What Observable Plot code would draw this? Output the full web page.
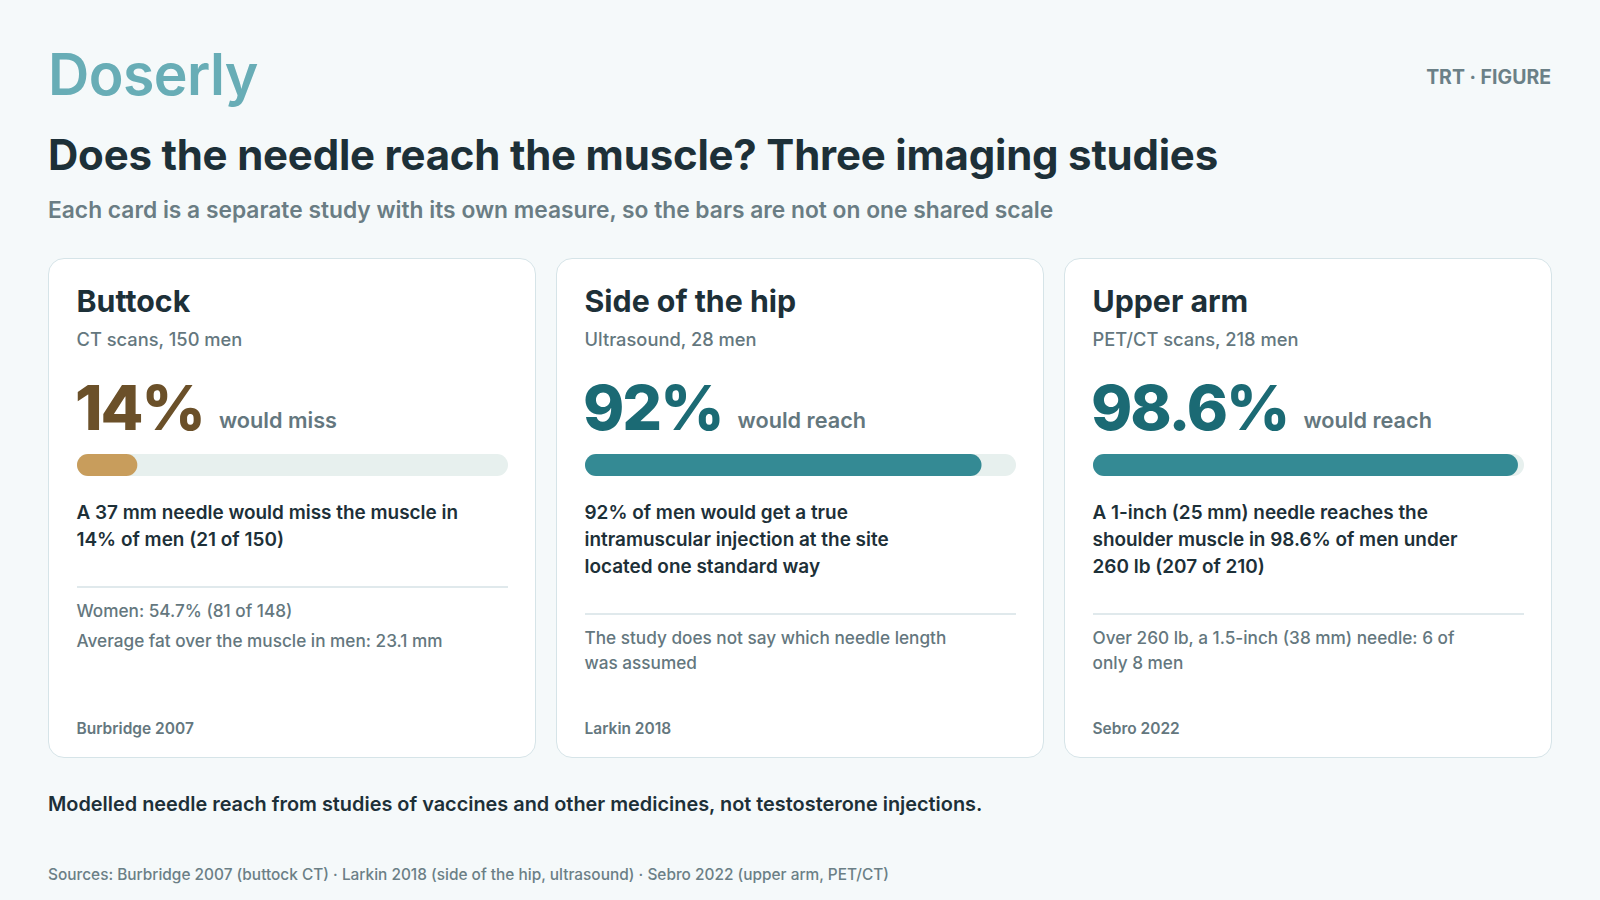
<!DOCTYPE html>
<html><head><meta charset="utf-8">
<script src="https://cdn.jsdelivr.net/npm/d3@7"></script>
<script src="https://cdn.jsdelivr.net/npm/@observablehq/plot@0.6"></script>
<style>
html,body{margin:0;padding:0;background:#f5f9fa;}
#page{position:relative;width:1600px;height:900px;overflow:hidden;font-family:Inter,"Noto Sans",sans-serif;color:#1d3038;}
.t{position:absolute;white-space:nowrap;line-height:1;}
.card{position:absolute;box-sizing:border-box;background:#fff;border:1.5px solid #d6e4e8;border-radius:16px;}
.rule{position:absolute;height:2px;background:#e0e9ec;}
.bar{position:absolute;}
</style></head><body><div id="page"></div>
<script>
// ---- data ----
const sites = ["Buttock", "Side of the hip", "Upper arm"];
const methods = ["CT scans, 150 men", "Ultrasound, 28 men", "PET/CT scans, 218 men"];
const values = [14, 92, 98.6];
const valueLabels = ["14%", "92%", "98.6%"];
const verbs = ["would miss", "would reach", "would reach"];
const headlines = [
  ["A 37 mm needle would miss the muscle in", "14% of men (21 of 150)"],
  ["92% of men would get a true", "intramuscular injection at the site", "located one standard way"],
  ["A 1-inch (25 mm) needle reaches the", "shoulder muscle in 98.6% of men under", "260 lb (207 of 210)"]
];
const notes = [
  [["Women: 54.7% (81 of 148)"], ["Average fat over the muscle in men: 23.1 mm"]],
  [["The study does not say which needle length", "was assumed"]],
  [["Over 260 lb, a 1.5-inch (38 mm) needle: 6 of", "only 8 men"]]
];
const studies = ["Burbridge 2007", "Larkin 2018", "Sebro 2022"];
const tones = ["miss", "reach", "reach"];

const brand = "Doserly";
const tag = "TRT · FIGURE";
const title = "Does the needle reach the muscle? Three imaging studies";
const subtitle = "Each card is a separate study with its own measure, so the bars are not on one shared scale";
const footnote = "Modelled needle reach from studies of vaccines and other medicines, not testosterone injections.";
const sourcesLine = "Sources: Burbridge 2007 (buttock CT) · Larkin 2018 (side of the hip, ultrasound) · Sebro 2022 (upper arm, PET/CT)";

// ---- styles ----
const DARK = "#1d3038", MUTED = "#64777e";
const toneColor = {miss: {num: "#6b5029", bar: "#c89d5c"}, reach: {num: "#1b6a74", bar: "#348a94"}};
const TRACK = "#e7f0ee";

const page = document.getElementById("page");
const A = 0.864; // baseline offset factor for line-height:1

function txt(parent, str, x, base, fs, weight, color, o = {}) {
  const d = document.createElement("div");
  d.className = "t";
  d.textContent = str;
  d.style.fontSize = fs + "px";
  d.style.fontWeight = weight;
  d.style.color = color;
  if (o.ls) d.style.letterSpacing = o.ls;
  if (o.right != null) d.style.right = o.right + "px"; else d.style.left = x + "px";
  d.style.top = (base - A * fs) + "px";
  parent.appendChild(d);
  if (o.fit) {
    const w = d.getBoundingClientRect().width;
    const f2 = fs * o.fit / w;
    d.style.fontSize = f2 + "px";
    d.style.top = (base - A * f2) + "px";
  }
  return d;
}

// header
txt(page, brand, 48, 95, 60, 600, "#68adb6", {fit: 210, ls: "-0.01em"});
txt(page, tag, 0, 85, 20.5, 700, "#6b8087", {right: 49, fit: 125});
txt(page, title, 48, 170, 39, 700, DARK, {fit: 1170, ls: "-0.005em"});
txt(page, subtitle, 48, 218.3, 22.5, 600, "#6a7d84", {fit: 1006});

// cards
const cardX = [48, 556, 1064];
const CW = 488, PAD = 28.5, IW = 431;

function bar(value, color) {
  return Plot.plot({
    width: IW, height: 22, margin: 0,
    x: {domain: [0, 100], axis: null},
    style: {background: "transparent", overflow: "visible"},
    marks: [
      Plot.barX([100], {x1: 0, x2: d => d, fill: TRACK, rx: 11}),
      Plot.barX([value], {x1: 0, x2: d => d, fill: color, rx: 11})
    ]
  });
}

sites.forEach((site, i) => {
  const cx = cardX[i];
  const card = document.createElement("div");
  card.className = "card";
  Object.assign(card.style, {left: cx + "px", top: "258px", width: CW + "px", height: "500px"});
  page.appendChild(card);
  const L = cx + PAD;
  const col = toneColor[tones[i]];

  txt(page, site, L, 312, 30.3, 700, DARK);
  txt(page, methods[i], L, 346.2, 18.3, 500, MUTED);
  const num = txt(page, valueLabels[i], L - 1.5, 430, 62.5, 800, col.num, {ls: "-0.032em"});
  const nw = num.getBoundingClientRect().width;
  txt(page, verbs[i], L - 1.5 + nw + 15, 428.5, 21.7, 600, MUTED);

  const b = document.createElement("div");
  b.className = "bar";
  Object.assign(b.style, {left: L + "px", top: "454px", width: IW + "px", height: "22px"});
  b.appendChild(bar(values[i], col.bar));
  page.appendChild(b);

  let base = 520.5;
  const LH = 27;
  headlines[i].forEach((line, k) => {
    txt(page, line, L, base + LH * k, 18.95, 600, DARK);
  });
  const last = base + LH * (headlines[i].length - 1);
  const ruleY = last + 39;
  const r = document.createElement("div");
  r.className = "rule";
  Object.assign(r.style, {left: L + "px", top: (ruleY - 1) + "px", width: IW + "px"});
  page.appendChild(r);

  let nb = ruleY + 30;
  notes[i].forEach((para, p) => {
    para.forEach((line, k) => {
      txt(page, line, L, nb, 17.2, 500, MUTED);
      nb += 25;
    });
    nb += 5.7;
  });

  txt(page, studies[i], L, 734, 15.5, 600, MUTED);
});

// footer
txt(page, footnote, 48, 811.7, 18.5, 600, DARK, {fit: 935});
txt(page, sourcesLine, 48, 880.7, 16, 500, "#6b7f86", {fit: 842});
</script></body></html>
